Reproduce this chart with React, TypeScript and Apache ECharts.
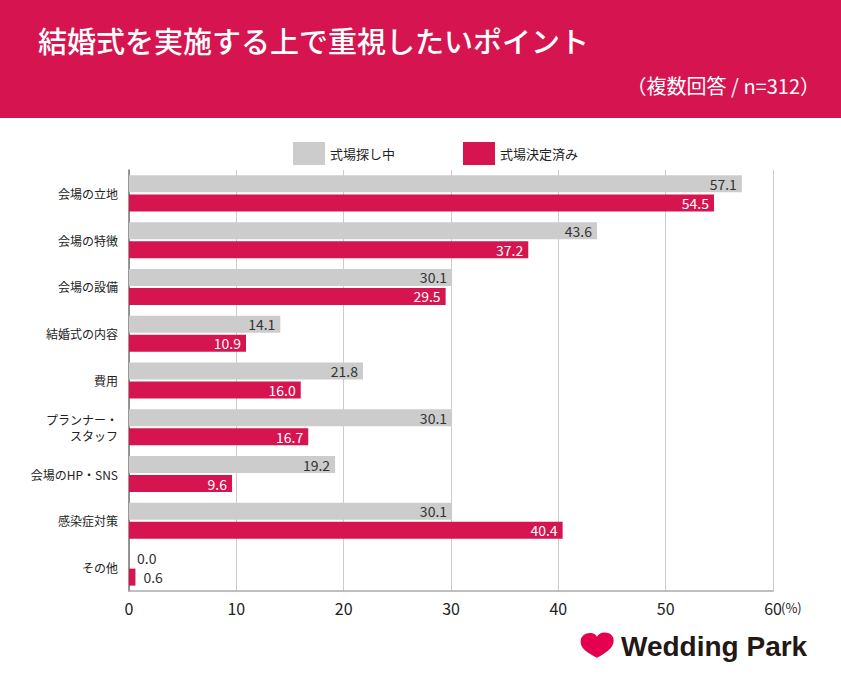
import React, { useEffect, useRef } from "react";
import * as echarts from "echarts";

const categories = [
  "会場の立地",
  "会場の特徴",
  "会場の設備",
  "結婚式の内容",
  "費用",
  "プランナー・\nスタッフ",
  "会場のHP・SNS",
  "感染症対策",
  "その他",
];
const searching = [57.1, 43.6, 30.1, 14.1, 21.8, 30.1, 19.2, 30.1, 0.0];
const decided = [54.5, 37.2, 29.5, 10.9, 16.0, 16.7, 9.6, 40.4, 0.6];
const seriesNames = ["式場探し中", "式場決定済み"];
const xTicks = [0, 10, 20, 30, 40, 50, 60];

const RED = "#D6144F";
const GRAY = "#CCCCCC";
const FONT = "'Noto Sans CJK JP', 'Noto Sans', sans-serif";

const heartPath =
  "M50 92 C22 74 0 58 2 32 C3 12 18 2 33 4 C42 5 47 11 50 17 C54 9 61 2 72 2 C88 2 100 14 99 32 C98 56 78 74 50 92 Z";

let registered = false;

export default function App() {
  const ref = useRef<HTMLDivElement>(null);
  useEffect(() => {
    if (!ref.current) return;
    if (!registered) {
      echarts.graphic.registerShape("heart", echarts.graphic.extendPath(heartPath, {}));
      registered = true;
    }
    const chart = echarts.init(ref.current, null, { renderer: "svg" });
    const mk = (vals: number[]) =>
      vals.map((v) => {
        if (v < 3) {
          return {
            value: v,
            label: { position: "right", color: "#333", distance: 8 },
          };
        }
        return { value: v };
      });
    chart.setOption({
      animation: false,
      textStyle: { fontFamily: FONT },
      graphic: [
        { type: "rect", shape: { x: 0, y: 0, width: 841, height: 118 }, style: { fill: RED }, silent: true },
        {
          type: "text",
          x: 38,
          y: 40,
          style: {
            text: "結婚式を実施する上で重視したいポイント",
            fill: "#fff",
            font: `500 29px ${FONT}`,
            textVerticalAlign: "middle",
          },
        },
        {
          type: "text",
          x: 820,
          y: 85,
          style: {
            text: "（複数回答 / n=312）",
            fill: "#fff",
            font: `400 20px ${FONT}`,
            textAlign: "right",
            textVerticalAlign: "middle",
          },
        },
        {
          type: "text",
          x: 781,
          y: 607,
          style: { text: "(%)", fill: "#222", font: `400 13px ${FONT}`, textVerticalAlign: "middle" },
        },
        {
          type: "heart",
          x: 580,
          y: 632,
          scaleX: 0.34,
          scaleY: 0.28,
          style: { fill: "#E5004F" },
        },
        {
          type: "text",
          x: 621,
          y: 646,
          style: {
            text: "Wedding Park",
            fill: "#231815",
            font: `bold 28px 'Liberation Sans', Arial, sans-serif`,
            textVerticalAlign: "middle",
          },
        },
      ],
      legend: {
        data: seriesNames,
        left: 288,
        top: 137,
        itemWidth: 32,
        itemHeight: 23,
        itemGap: 68,
        icon: "rect",
        textStyle: { fontSize: 13, color: "#222", fontFamily: FONT },
      },
      grid: { left: 129, right: 68, top: 170, bottom: 89, containLabel: false },
      xAxis: {
        type: "value",
        min: 0,
        max: 60,
        interval: 10,
        axisLine: { show: true, lineStyle: { color: "#aaa", width: 1.5 } },
        axisTick: { show: false },
        splitLine: { show: true, lineStyle: { color: "#ccc", width: 1 } },
        axisLabel: {
          fontSize: 16,
          color: "#222",
          margin: 9,
          formatter: (v: number) => (xTicks.includes(v) ? String(v) : ""),
        },
      },
      yAxis: {
        type: "category",
        data: categories,
        inverse: true,
        axisLine: { show: true, lineStyle: { color: "#777", width: 1.5 } },
        axisTick: { show: false },
        axisLabel: { fontSize: 12, color: "#222", margin: 11, lineHeight: 16, align: "right" },
      },
      series: [
        {
          name: seriesNames[0],
          type: "bar",
          data: mk(searching),
          itemStyle: { color: GRAY },
          barWidth: 17,
          barGap: "12%",
          label: {
            show: true,
            position: "insideRight",
            distance: 5,
            color: "#333",
            fontSize: 14,
            fontFamily: FONT,
            formatter: (p: any) => Number(p.value).toFixed(1),
          },
        },
        {
          name: seriesNames[1],
          type: "bar",
          data: mk(decided),
          itemStyle: { color: RED },
          barWidth: 17,
          barGap: "12%",
          label: {
            show: true,
            position: "insideRight",
            distance: 5,
            color: "#fff",
            fontSize: 14,
            fontFamily: FONT,
            formatter: (p: any) => Number(p.value).toFixed(1),
          },
        },
      ],
    });
    return () => chart.dispose();
  }, []);
  return (
    <div
      ref={ref}
      style={{ position: "absolute", left: 0, top: 0, width: 841, height: 680 }}
    />
  );
}
